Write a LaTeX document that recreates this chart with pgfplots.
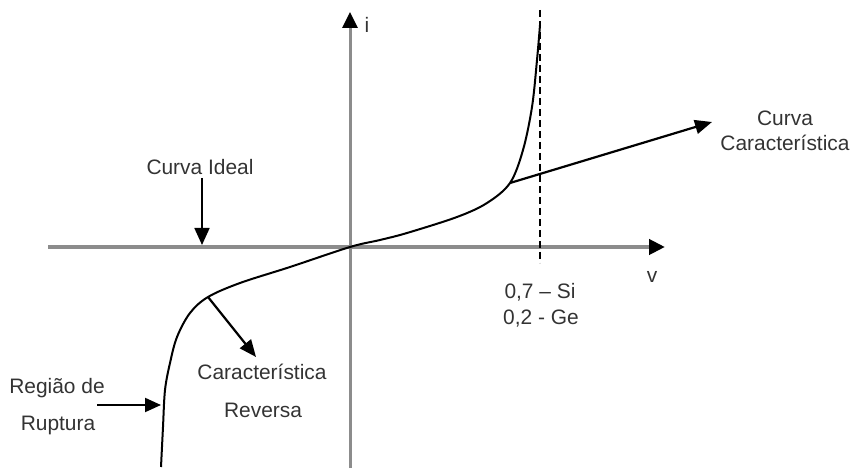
\documentclass[border=0pt]{standalone}
\usepackage{pgfplots}
\pgfplotsset{compat=1.18}
\usepackage{fontspec}
\setmainfont{Liberation Sans}
\usetikzlibrary{arrows.meta}
\definecolor{txt}{HTML}{333333}
\definecolor{axgray}{HTML}{8C8C8C}
\tikzset{lbl/.style={font=\fontsize{21}{25}\selectfont, text=txt, inner sep=0pt}}
\begin{document}
\begin{tikzpicture}
\begin{axis}[
  width=853bp, height=468bp, scale only axis,
  xmin=0, xmax=853, ymin=0, ymax=468,
  hide axis, clip=false,
]
\addplot[draw=none] coordinates {(0,0) (853,468)};
% axes
\addplot[axgray, line width=4bp, -{Triangle[length=16bp,width=15bp,color=black]}] coordinates {(48,221) (665,221)};
\addplot[axgray, line width=3bp, -{Triangle[length=16bp,width=15bp,color=black]}] coordinates {(350,0) (350,456)};
% dashed threshold line
\addplot[black, line width=1.5bp, dash pattern=on 7bp off 4bp] coordinates {(540,458) (540,205)};
% characteristic curve
\addplot[black, line width=2bp, smooth, tension=0.55] coordinates {
 (161,1) (163,41) (165,78) (170,105) (177,131) (190,155) (208,171) (240,185) (290,201)
 (350,221) (380,228) (407,235) (457,251) (487,265) (510,285) (523,318) (532,361) (537,408) (540,443)};
% annotation arrows
\addplot[black, line width=2.2bp, -{Triangle[length=17bp,width=14bp]}] coordinates {(510,285) (712,346)};
\addplot[black, line width=1.8bp, -{Triangle[length=17bp,width=15bp]}] coordinates {(202,290) (202,223)};
\addplot[black, line width=2.2bp, -{Triangle[length=17bp,width=14bp]}] coordinates {(208,171) (256,111)};
\addplot[black, line width=2bp, -{Triangle[length=16bp,width=14bp]}] coordinates {(97,63) (161,63)};
% labels
\node[lbl] at (axis cs:367,443) {i};
\node[lbl] at (axis cs:652,191) {v};
\node[lbl] at (axis cs:785,350) {Curva};
\node[lbl] at (axis cs:785,325) {Característica};
\node[lbl] at (axis cs:200,301) {Curva Ideal};
\node[lbl] at (axis cs:540,176) {0,7 – Si};
\node[lbl] at (axis cs:541,149) {0,2 - Ge};
\node[lbl] at (axis cs:262,96) {Característica};
\node[lbl] at (axis cs:263,58) {Reversa};
\node[lbl] at (axis cs:57,80) {Região de};
\node[lbl] at (axis cs:58,43) {Ruptura};
\end{axis}
\end{tikzpicture}
\end{document}
